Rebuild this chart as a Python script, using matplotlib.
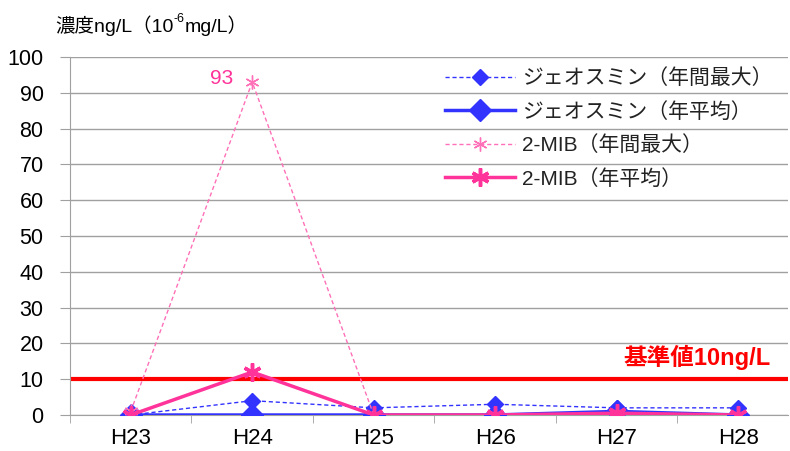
import numpy as np
import matplotlib.pyplot as plt

plt.rcParams['font.family'] = ['Liberation Sans', 'Noto Sans CJK JP', 'DejaVu Sans']

years = ['H23', 'H24', 'H25', 'H26', 'H27', 'H28']
geo_max = [0, 4, 2, 3, 2, 2]
geo_avg = [0, 0, 0, 0, 1, 0]
mib_max = [1, 93, 0, 0, 0, 0]
mib_avg = [0, 12, 0, 0, 0.5, 0]
standard = 10

blue = '#3333FF'
pink = '#FF3399'
pink_light = '#FF70B8'

fig = plt.figure(figsize=(7.9, 4.51), dpi=100)
ax = fig.add_axes([70 / 790, 36 / 451, 718 / 790, 358 / 451])

x = np.arange(len(years))

ax.axhline(standard, color='#FF0000', lw=3, zorder=2)

ax.plot(x, geo_max, color=blue, lw=1, ls=(0, (3, 2)), marker='D', ms=8,
        mec=blue, mfc=blue, label='ジェオスミン（年間最大）', zorder=3)
ax.plot(x, geo_avg, color=blue, lw=2.5, marker='D', ms=11,
        mec=blue, mfc=blue, label='ジェオスミン（年平均）', zorder=3)
ax.plot(x, mib_max, color=pink_light, lw=1, ls=(0, (3, 2)), marker=(6, 2, 0), ms=10,
        mec=pink_light, mew=1, label='2-MIB（年間最大）', zorder=4)
ax.plot(x, mib_avg, color=pink, lw=2.5, marker=(6, 2, 0), ms=13,
        mec=pink, mew=2.5, label='2-MIB（年平均）', zorder=5)

ax.text(x[1] - 0.16, mib_max[1] + 1, str(mib_max[1]), color=pink, fontsize=15,
        ha='right', va='center')
ax.text(5.27, standard + 6.2, '基準値10ng/L', color='#FF0000', fontsize=17,
        fontweight='bold', ha='right', va='center')

ax.set_xlim(-0.5, 5.41)
ax.set_ylim(0, 100)
ax.set_yticks(np.arange(0, 101, 10))
ax.set_xticks(x)
ax.set_xticklabels(years)
ax.set_xticks(np.arange(-0.5, 5.0, 1), minor=True)
ax.tick_params(axis='x', which='major', length=0, pad=9, labelsize=16)
ax.tick_params(axis='x', which='minor', length=6, color='#A0A0A0', direction='out')
ax.tick_params(axis='y', length=7, color='#A0A0A0', pad=12, labelsize=15.5)
ax.yaxis.grid(True, color='#A0A0A0', lw=1)
ax.set_axisbelow(True)
for s in ['top', 'right']:
    ax.spines[s].set_visible(False)
for s in ['left', 'bottom']:
    ax.spines[s].set_color('#A0A0A0')

leg = ax.legend(loc='upper left', bbox_to_anchor=(360 / 718, 1.01), frameon=False,
                fontsize=15, handlelength=3.4, labelspacing=0.66,
                handletextpad=0.3, borderaxespad=0.3)
for t in leg.get_texts():
    t.set_color('#222222')

# axis unit label with superscript, pieced together
fig.canvas.draw()
r = fig.canvas.get_renderer()
inv = fig.transFigure.inverted()
t1 = fig.text(55 / 790, 1 - 32 / 451, '濃度ng/L（10', fontsize=14, va='baseline')
bb = inv.transform(t1.get_window_extent(r))
t2 = fig.text(bb[1][0], 1 - 22 / 451, '-6', fontsize=9, va='baseline')
bb2 = inv.transform(t2.get_window_extent(r))
t3 = fig.text(bb2[1][0], 1 - 32 / 451, 'mg/L）', fontsize=14, va='baseline')

fig.savefig('out.png', dpi=100)
